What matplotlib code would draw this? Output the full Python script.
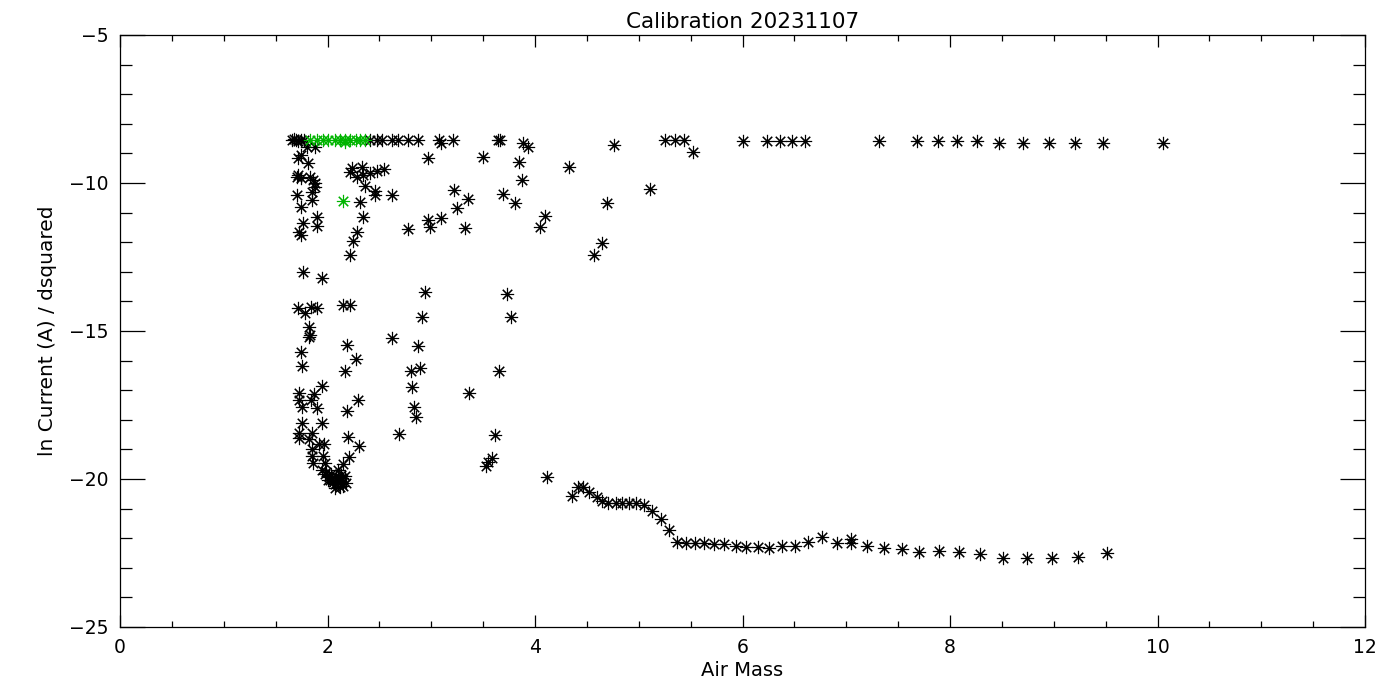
import matplotlib
matplotlib.use("Agg")
import matplotlib.pyplot as plt
from matplotlib.ticker import MultipleLocator

OUT = "out.png"

# air mass / ln current readings, black = all samples
air_mass = [
    # top row (saturated)
    1.66, 1.68, 1.70, 1.72, 1.74, 1.77, 2.41, 2.48, 2.53, 2.62, 2.68, 2.78, 2.87,
    3.07, 3.09, 3.21, 3.64, 3.66, 3.88, 3.93, 4.76, 5.25, 5.35, 5.44, 5.52, 6.00,
    6.24, 6.36, 6.48, 6.60, 7.32, 7.68, 7.88, 8.07, 8.26, 8.47, 8.70, 8.95, 9.20,
    9.47, 10.05,
    # left column
    1.72, 1.74, 1.81, 1.80, 1.88, 1.72, 1.71, 1.74, 1.83, 1.86, 1.88, 1.88,
    2.24, 2.22, 2.33, 2.28, 2.34, 2.41, 2.48, 2.54, 2.36, 2.46, 2.46, 2.62,
    1.71, 1.85, 1.85, 1.74, 2.31, 2.97, 3.50,
    1.90, 1.76, 1.90, 1.73, 1.74, 2.34, 2.28, 2.25, 2.78, 2.22, 1.76, 1.95,
    1.72, 1.78, 1.84, 1.90, 2.15, 2.22, 1.82, 1.82, 1.83, 2.19, 2.62, 2.87,
    1.74, 2.27, 1.75, 2.17, 2.80, 2.89, 1.95, 2.81,
    1.73, 1.87, 1.73, 1.84, 1.75, 1.90, 2.29, 2.19, 2.83, 2.85, 1.75, 1.95,
    1.73, 1.73, 1.85, 1.82, 2.20, 2.69, 2.30, 1.85, 1.92, 1.97,
    1.85, 1.96, 1.86, 1.98, 2.21, 2.15,
    # bottom cluster
    1.95, 1.98, 2.01, 2.02, 2.05, 2.07, 2.10, 2.12, 2.14, 2.17, 2.08, 2.03,
    2.12, 2.15, 2.04, 1.99, 2.10, 2.07, 2.00, 2.13, 2.18,
    # middle
    2.94, 2.91, 3.22, 3.35, 3.25, 2.97, 2.99, 3.09, 3.33, 3.69, 3.81, 3.85,
    3.87, 4.10, 4.05, 4.33, 3.73, 3.77, 3.65, 3.36, 3.61, 3.59, 3.55, 3.53,
    4.57, 4.65, 4.69, 5.11,
    # lower curve
    4.12, 4.36, 4.41, 4.46, 4.52, 4.60, 4.65, 4.70, 4.78, 4.84, 4.91, 4.97,
    5.05, 5.13, 5.21, 5.29, 5.37, 5.46, 5.54, 5.63, 5.73, 5.82, 5.94, 6.03,
    6.15, 6.26, 6.38, 6.51, 6.63, 6.77, 6.91, 7.05, 7.05, 7.20, 7.36, 7.54,
    7.70, 7.89, 8.09, 8.29, 8.51, 8.74, 8.98, 9.23, 9.51,
]
ln_current = [
    -8.55, -8.52, -8.55, -8.58, -8.55, -8.55, -8.55, -8.55, -8.55, -8.55, -8.55, -8.55, -8.55,
    -8.55, -8.65, -8.55, -8.55, -8.55, -8.65, -8.78, -8.72, -8.55, -8.55, -8.55, -8.95, -8.58,
    -8.58, -8.58, -8.58, -8.58, -8.58, -8.58, -8.58, -8.58, -8.58, -8.65, -8.65, -8.65, -8.65,
    -8.65, -8.65,
    -9.16, -9.05, -9.32, -8.78, -8.78, -9.73, -9.80, -9.83, -9.80, -9.90, -10.00, -10.14,
    -9.49, -9.63, -9.46, -9.80, -9.73, -9.66, -9.60, -9.53, -10.10, -10.27, -10.41, -10.41,
    -10.41, -10.30, -10.57, -10.81, -10.64, -9.16, -9.12,
    -11.15, -11.35, -11.45, -11.66, -11.76, -11.15, -11.66, -11.96, -11.55, -12.43, -13.01, -13.21,
    -14.22, -14.39, -14.19, -14.22, -14.12, -14.12, -14.86, -15.20, -15.14, -15.47, -15.24, -15.51,
    -15.71, -15.95, -16.18, -16.35, -16.35, -16.25, -16.86, -16.89,
    -17.09, -17.13, -17.33, -17.33, -17.57, -17.60, -17.33, -17.70, -17.57, -17.91, -18.11, -18.11,
    -18.45, -18.62, -18.45, -18.65, -18.58, -18.48, -18.89, -18.99, -18.82, -18.82,
    -19.22, -19.22, -19.46, -19.46, -19.26, -19.49,
    -19.70, -19.83, -19.93, -20.03, -20.10, -20.17, -20.10, -20.03, -19.97, -19.90, -19.90, -19.83,
    -20.27, -20.24, -19.97, -19.76, -19.70, -20.30, -20.05, -19.85, -20.15,
    -13.68, -14.53, -10.24, -10.54, -10.85, -11.25, -11.49, -11.18, -11.52, -10.37, -10.68, -9.29,
    -9.90, -11.12, -11.49, -9.46, -13.75, -14.53, -16.35, -17.09, -18.51, -19.29, -19.43, -19.56,
    -12.43, -12.03, -10.68, -10.20,
    -19.93, -20.57, -20.27, -20.27, -20.44, -20.61, -20.74, -20.81, -20.81, -20.81, -20.81, -20.81,
    -20.88, -21.08, -21.35, -21.72, -22.13, -22.16, -22.16, -22.16, -22.20, -22.20, -22.26, -22.30,
    -22.30, -22.33, -22.26, -22.26, -22.13, -21.96, -22.16, -22.03, -22.16, -22.26, -22.33, -22.36,
    -22.47, -22.43, -22.47, -22.53, -22.67, -22.67, -22.67, -22.64, -22.50,
]

# green = points selected for the calibration fit
fit_air_mass = [1.83, 1.90, 1.96, 2.00, 2.07, 2.12, 2.17, 2.17, 2.22, 2.27, 2.31, 2.36, 2.15]
fit_ln_current = [-8.55, -8.55, -8.55, -8.55, -8.55, -8.55, -8.55, -8.62, -8.55, -8.55, -8.55, -8.55, -10.61]

TITLE = "Calibration 20231107"


def main():
    fig = plt.figure(figsize=(14, 7), dpi=100)
    ax = fig.add_axes([120 / 1400, 1 - 627 / 700, 1245 / 1400, 592 / 700])

    star = (8, 2, 0)  # IDL style asterisk
    ax.plot(air_mass, ln_current, linestyle="none", marker=star, markersize=9.5,
            markeredgewidth=0.8, color="black")
    ax.plot(fit_air_mass, fit_ln_current, linestyle="none", marker=star, markersize=9.5,
            markeredgewidth=0.8, color="#00b400")

    ax.set_xlim(0, 12)
    ax.set_ylim(-25, -5)
    ax.xaxis.set_major_locator(MultipleLocator(2))
    ax.xaxis.set_minor_locator(MultipleLocator(0.5))
    ax.yaxis.set_major_locator(MultipleLocator(5))
    ax.yaxis.set_minor_locator(MultipleLocator(1))

    ax.tick_params(axis="both", which="both", direction="in", top=True, right=True,
                   labelsize=13.5, width=0.9, colors="black")
    ax.tick_params(axis="x", which="major", length=8.6, pad=8)
    ax.tick_params(axis="x", which="minor", length=4.3)
    ax.tick_params(axis="y", which="major", length=18, pad=8)
    ax.tick_params(axis="y", which="minor", length=8.6)
    for s in ax.spines.values():
        s.set_linewidth(0.9)

    ax.set_xlabel("Air Mass", fontsize=14, labelpad=3)
    ax.set_ylabel("ln Current (A) / dsquared", fontsize=14.5, labelpad=9)
    ax.set_title(TITLE, fontsize=15.5, pad=5)

    fig.savefig(OUT, dpi=100, facecolor="white")
    plt.close(fig)


if __name__ == "__main__":
    main()
